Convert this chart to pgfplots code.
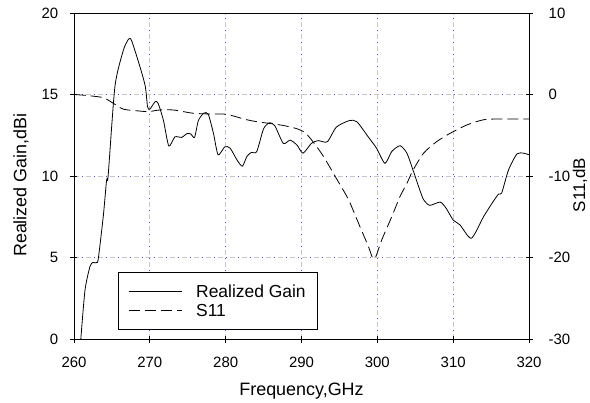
\documentclass[border=0pt]{standalone}
\usepackage{fontspec}
\setmainfont{Liberation Sans}
\usepackage{pgfplots}
\pgfplotsset{compat=1.18}
\begin{document}
\begin{tikzpicture}
\useasboundingbox (-74bp,-64bp) rectangle (516bp,339bp);
\begin{axis}[
 at={(0,0)}, anchor=south west, scale only axis, width=455bp, height=326bp,
 xmin=260, xmax=320, ymin=0, ymax=20,
 xtick={260,270,...,320}, ytick={0,5,...,20},
 xtick pos=bottom, ytick pos=left, tick align=center, major tick length=7bp,
 tick style={black, line width=0.7bp},
 axis line style={black, line width=0.8bp},
 grid=major, major grid style={gray!45, line width=0.7bp, dash pattern=on 5bp off 7bp},
 extra x ticks={270,280,...,310}, extra y ticks={5,10,15},
 extra x tick labels={}, extra y tick labels={},
 extra tick style={grid=major, major tick length=0pt, major grid style={blue!70, line width=0.7bp, dash pattern=on 1bp off 11bp, dash phase=4bp}},
 /pgf/number format/assume math mode=true,
 ticklabel style={font=\fontsize{15}{18}\selectfont},
 xticklabel style={anchor=center, yshift=-20bp},
 yticklabel style={anchor=east, inner sep=0pt, xshift=-12bp},
 xlabel={Frequency,GHz}, ylabel={Realized Gain,dBi},
 label style={font=\fontsize{18}{21}\selectfont},
 xlabel style={at={(axis description cs:0.5,-0.1607)}, anchor=center},
 ylabel style={at={(axis description cs:-0.1165,0.472)}, anchor=center},
]
\addplot[black, line width=0.8bp, smooth, tension=0.4] coordinates {
(260.9,0) (261.45,3.0) (262.1,4.44) (262.5,4.7) (263.1,4.7) (263.4,5.66) (263.9,7.7)
(264.3,9.75) (264.5,10.0) (265.4,15.5) (266.5,17.7) (267.2,18.4) (267.6,18.3)
(268.7,16.7) (269.4,15.5) (269.7,14.25) (270.0,14.1) (270.7,14.56) (271.1,14.45)
(271.8,13.4) (272.5,11.84) (273.3,12.4) (274.2,12.37) (274.9,12.6) (275.4,12.58)
(275.9,12.37) (276.4,13.4) (277.1,13.85) (277.7,13.8) (278.4,12.6) (279.0,11.3)
(279.9,11.8) (280.6,11.7) (281.5,10.98) (282.2,10.6) (282.8,11.2) (283.4,11.45)
(284.1,11.5) (285.0,12.9) (285.8,13.27) (286.5,13.07) (287.6,12.0) (288.5,12.2)
(289.4,11.9) (290.2,11.4) (291.3,12.0) (292.2,12.17) (293.4,12.1) (294.6,13.0)
(296.3,13.4) (297.3,13.33) (298.8,12.4) (299.9,11.7) (301.0,10.78) (301.9,11.5)
(303.0,11.86) (303.9,11.4) (304.7,10.37) (305.6,9.14) (306.1,8.55) (306.9,8.2)
(308.3,8.4) (309.1,8.0) (310.0,7.3) (310.9,7.0) (312.4,6.18) (314.0,7.5)
(315.3,8.45) (316.0,8.9) (316.4,8.96) (317.3,10.37) (318.4,11.35) (319.3,11.4) (320.0,11.3)
};
\end{axis}
\begin{axis}[
 at={(0,0)}, anchor=south west, scale only axis, width=455bp, height=326bp,
 xmin=260, xmax=320, ymin=-30, ymax=10,
 axis x line=none, axis y line*=right,
 ytick={-30,-20,...,10}, yticklabels={-30,-20,-10,0,10},
 tick align=center, major tick length=7bp,
 tick style={black, line width=0.7bp},
 axis line style={black, line width=0.8bp},
 ticklabel style={font=\fontsize{15}{18}\selectfont},
 yticklabel style={anchor=west, inner sep=0pt, xshift=16bp},
 ylabel={S11,dB},
 label style={font=\fontsize{17}{20}\selectfont},
 ylabel style={at={(axis description cs:1.112,0.472)}, anchor=center},
 legend image code/.code={\draw[#1] (0bp,0bp) -- (53bp,0bp);},
 legend style={at={(axis description cs:0.0967,0.0276)}, anchor=south west,
   draw=black, line width=0.8bp, fill=white, inner xsep=10bp, inner ysep=10bp,
   font=\fontsize{17.5}{21}\selectfont,
   cells={anchor=west, inner xsep=0pt, inner ysep=1.5bp, text height=13bp, text depth=4bp},
   /tikz/every odd column/.append style={column sep=12bp}},
]
\addlegendimage{black, line width=0.8bp}
\addlegendentry{Realized Gain}
\addplot[black, line width=0.8bp, dash pattern=on 11bp off 5bp, smooth, tension=0.4] coordinates {
(260.1,0) (262,-0.15) (263.9,-0.4) (265.2,-1.09) (266.5,-1.8) (268.3,-2.0) (269.8,-2.1)
(271.3,-1.9) (273.1,-1.9) (275.7,-2.3) (277.9,-2.39) (280.1,-2.43) (282.8,-3.1)
(284.5,-3.4) (285.4,-3.5) (287.6,-3.8) (289.4,-4.2) (290.5,-4.7) (291.6,-5.9)
(292.9,-7.6) (294.6,-10.3) (296.2,-12.9) (297.7,-16.2) (298.8,-18.6) (299.4,-20.1)
(299.8,-19.9) (300.6,-17.8) (301.9,-15.0) (303.0,-12.5) (303.9,-10.9) (304.7,-9.3)
(306.1,-7.2) (307.8,-5.8) (309.6,-4.76) (311.8,-3.74) (314.0,-3.1) (316.2,-3.0) (320,-3.0)
};
\addlegendentry{S11}
\end{axis}
\end{tikzpicture}
\end{document}
